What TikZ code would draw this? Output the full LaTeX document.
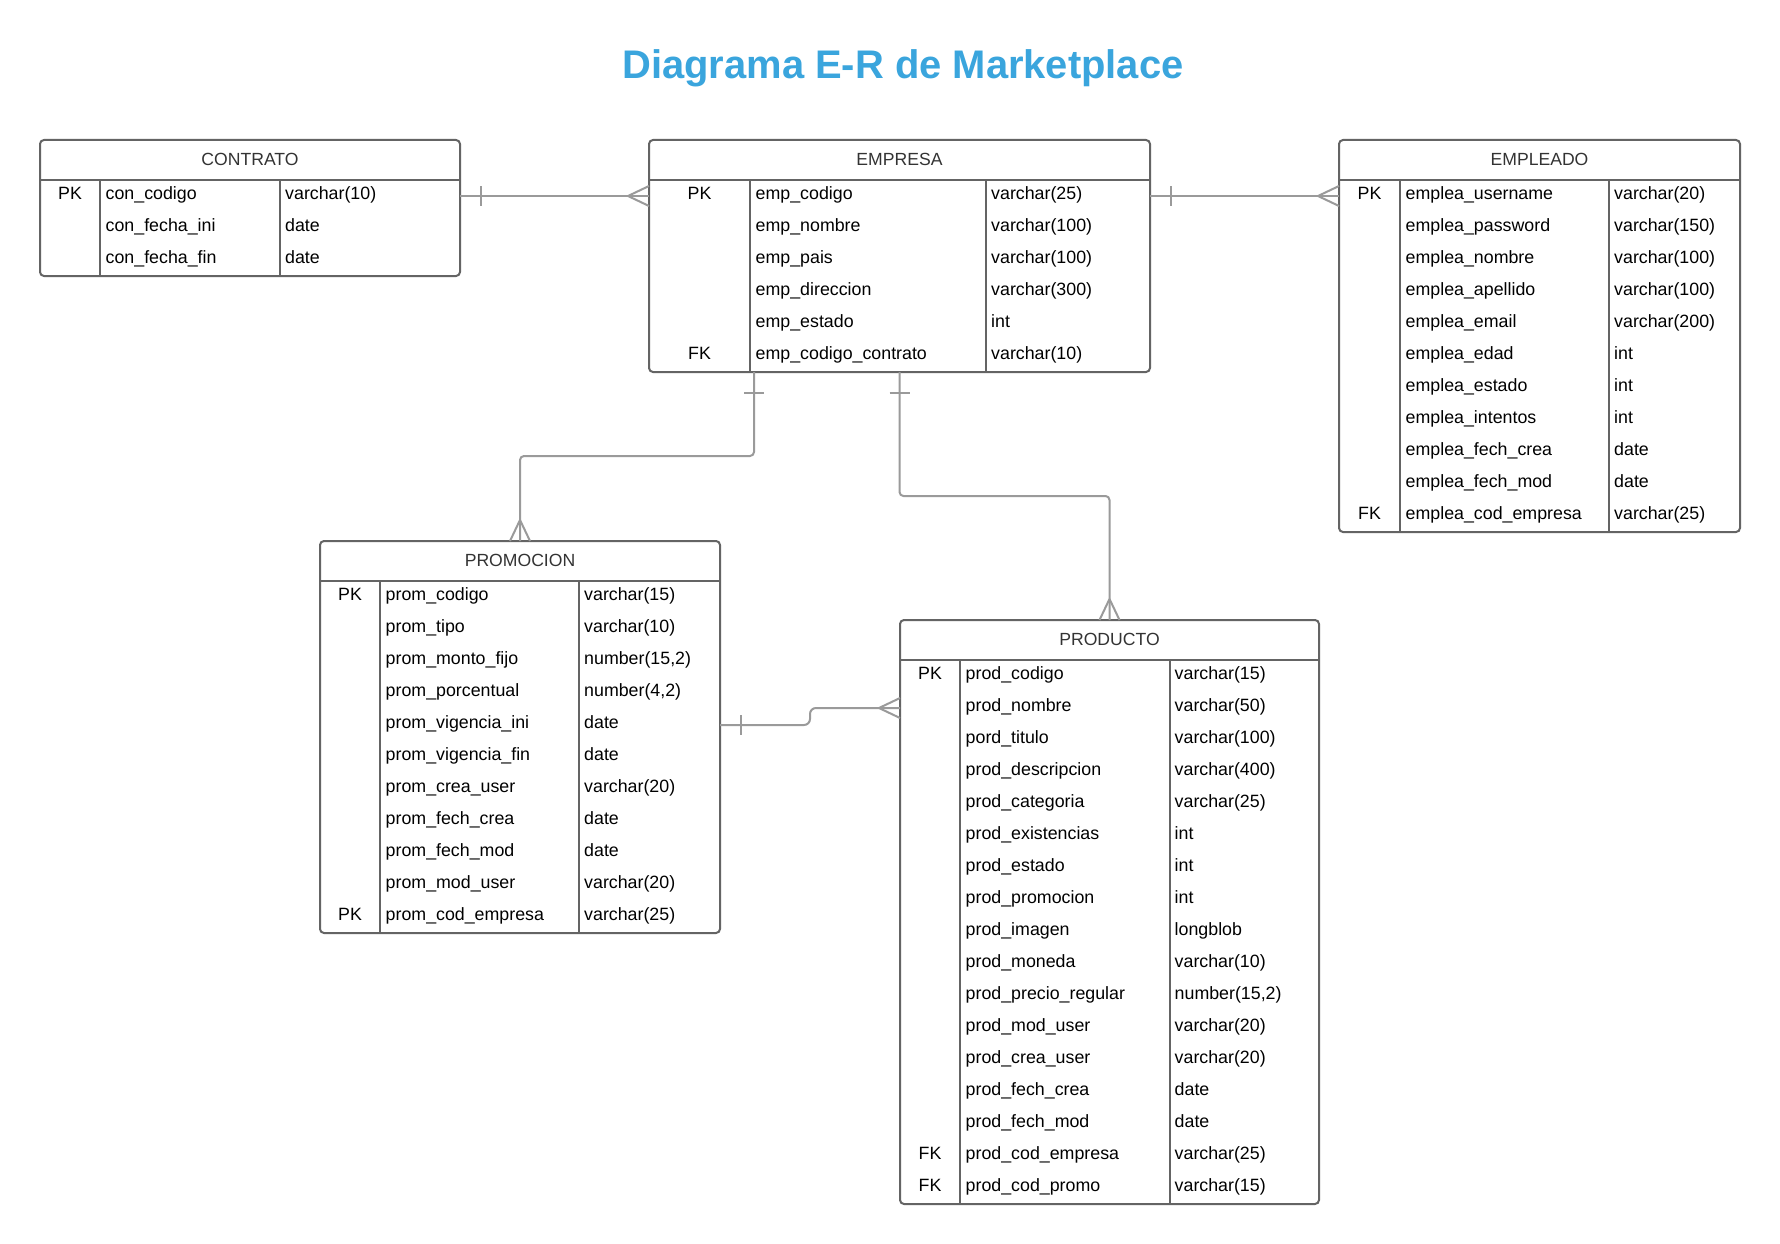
\documentclass[tikz,border=0pt]{standalone}
\usepackage{fontspec}
\setmainfont{Liberation Sans}
\definecolor{titleblue}{HTML}{3AA5DD}
\definecolor{bordc}{HTML}{646464}
\definecolor{connc}{HTML}{9A9A9A}
\definecolor{hdrc}{HTML}{333333}
\tikzset{
  tablebox/.style={draw=bordc, line width=2pt, rounded corners=4pt, inner sep=0pt, outer sep=0pt},
  tableline/.style={draw=bordc, line width=2pt},
  celltxt/.style={inner sep=0pt, font=\fontsize{17.8}{20}\selectfont, text=black},
  hdrtxt/.style={inner sep=0pt, font=\fontsize{17.6}{20}\selectfont, text=hdrc, anchor=base},
  conn/.style={draw=connc, line width=2pt},
  titletxt/.style={inner sep=0pt, font=\fontsize{39.9}{46}\selectfont\bfseries, text=titleblue, anchor=base}
}
% #1 name, #2 left, #3 top, #4 pk line, #5 type line, #6 right, #7 rows, #8 title, #9 rows data
\newcommand\ertable[9]{%
  \node[tablebox, minimum width={(#6-#2)*1pt}, minimum height={(40+32*#7)*1pt}, anchor=north west] (#1) at (#2,#3) {};
  \draw[tableline] (#2,{#3+40}) -- (#6,{#3+40});
  \draw[tableline] (#4,{#3+40}) -- (#4,{#3+40+32*#7});
  \draw[tableline] (#5,{#3+40}) -- (#5,{#3+40+32*#7});
  \node[hdrtxt] (#1-title) at ({(#2+#6)/2},{#3+25}) {#8};
  \foreach \k/\n/\t [count=\i] in {#9} {
    \coordinate (#1-r\i) at (#2,{#3+40+32*\i-16});
    \node[celltxt, anchor=base] (#1-k\i) at ({(#2+#4)/2},{#3+40+32*(\i-1)+19}) {\k};
    \node[celltxt, anchor=base west] (#1-n\i) at ({#4+5.5},{#3+40+32*(\i-1)+19}) {\n};
    \node[celltxt, anchor=base west] (#1-t\i) at ({#5+5},{#3+40+32*(\i-1)+19}) {\t};
  }%
}
\newcommand\crowL[1]{\draw[conn] ([xshift=-21pt]#1) -- ++(21,-10) ([xshift=-21pt]#1) -- ++(21,10);}
\newcommand\crowT[1]{\draw[conn] ([yshift=21pt]#1) -- ++(-10,21) ([yshift=21pt]#1) -- ++(10,21);}
\newcommand\tickR[1]{\draw[conn] ([xshift=21pt]#1) ++(0,-10) -- ++(0,20);}
\newcommand\tickB[1]{\draw[conn] ([yshift=-21pt]#1) ++(-10,0) -- ++(20,0);}

\begin{document}
\begin{tikzpicture}[x=1pt,y=-1pt]
\fill[white] (0,0) rectangle (1780,1244);
\useasboundingbox (0,0) rectangle (1780,1244);

\node[titletxt] (title) at (903,79) {Diagrama E-R de Marketplace};

\ertable{contrato}{40}{140}{100}{280}{460}{3}{CONTRATO}{PK/con\_codigo/varchar(10), /con\_fecha\_ini/date, /con\_fecha\_fin/date}

\ertable{empresa}{649}{140}{750}{986}{1150}{6}{EMPRESA}{PK/emp\_codigo/varchar(25), /emp\_nombre/varchar(100), /emp\_pais/varchar(100), /emp\_direccion/varchar(300), /emp\_estado/int, FK/emp\_codigo\_contrato/varchar(10)}

\ertable{empleado}{1339}{140}{1400}{1609}{1740}{11}{EMPLEADO}{PK/emplea\_username/varchar(20), /emplea\_password/varchar(150), /emplea\_nombre/varchar(100), /emplea\_apellido/varchar(100), /emplea\_email/varchar(200), /emplea\_edad/int, /emplea\_estado/int, /emplea\_intentos/int, /emplea\_fech\_crea/date, /emplea\_fech\_mod/date, FK/emplea\_cod\_empresa/varchar(25)}

\ertable{promocion}{320}{541}{380}{579}{720}{11}{PROMOCION}{PK/prom\_codigo/varchar(15), /prom\_tipo/varchar(10), /prom\_monto\_fijo/{number(15,2)}, /prom\_porcentual/{number(4,2)}, /prom\_vigencia\_ini/date, /prom\_vigencia\_fin/date, /prom\_crea\_user/varchar(20), /prom\_fech\_crea/date, /prom\_fech\_mod/date, /prom\_mod\_user/varchar(20), PK/prom\_cod\_empresa/varchar(25)}

\ertable{producto}{900}{620}{960}{1169.5}{1319}{17}{PRODUCTO}{PK/prod\_codigo/varchar(15), /prod\_nombre/varchar(50), /pord\_titulo/varchar(100), /prod\_descripcion/varchar(400), /prod\_categoria/varchar(25), /prod\_existencias/int, /prod\_estado/int, /prod\_promocion/int, /prod\_imagen/longblob, /prod\_moneda/varchar(10), /prod\_precio\_regular/{number(15,2)}, /prod\_mod\_user/varchar(20), /prod\_crea\_user/varchar(20), /prod\_fech\_crea/date, /prod\_fech\_mod/date, FK/prod\_cod\_empresa/varchar(25), FK/prod\_cod\_promo/varchar(15)}

% CONTRATO -- EMPRESA
\coordinate (c1s) at (contrato-r1 -| contrato.east);
\coordinate (c1e) at (empresa-r1 -| empresa.west);
\draw[conn] (c1s) -- (c1e);
\tickR{c1s}
\crowL{c1e}

% EMPRESA -- EMPLEADO
\coordinate (c2s) at (empresa-r1 -| empresa.east);
\coordinate (c2e) at (empleado-r1 -| empleado.west);
\draw[conn] (c2s) -- (c2e);
\tickR{c2s}
\crowL{c2e}

% EMPRESA -- PROMOCION
\coordinate (c3s) at ([xshift=105pt]empresa.south west);
\coordinate (c3e) at (promocion.north);
\draw[conn, rounded corners=4pt] (c3s) -- ++(0,84) -| (c3e);
\tickB{c3s}
\crowT{c3e}

% EMPRESA -- PRODUCTO
\coordinate (c4s) at (empresa.south);
\coordinate (c4e) at (producto.north);
\draw[conn, rounded corners=4pt] (c4s) -- ++(0,124) -| (c4e);
\tickB{c4s}
\crowT{c4e}

% PROMOCION -- PRODUCTO
\coordinate (c5s) at (promocion-r5 -| promocion.east);
\coordinate (c5e) at (producto-r2 -| producto.west);
\draw[conn, rounded corners=6pt] (c5s) -- ++(90,0) |- (c5e);
\tickR{c5s}
\crowL{c5e}
\end{tikzpicture}
\end{document}
